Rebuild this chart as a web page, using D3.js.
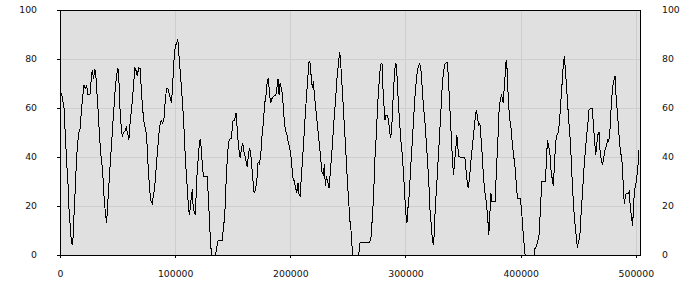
<!DOCTYPE html>
<html>
<head>
<meta charset="utf-8">
<script src="https://cdn.jsdelivr.net/npm/d3@7"></script>
<style>
  body { margin: 0; background: #fff; }
  text { font-family: "DejaVu Sans", Verdana, sans-serif; font-size: 9.3px; fill: #111; }
</style>
</head>
<body>
<svg id="chart" width="700" height="300"></svg>
<script>
// samples: [position, value]
var series = [
  [0,67.5],[1730,65],[3470,60],[4630,49],[5780,38],[6940,29],[7810,19],[8960,11],[9830,5.6],[10700,4],
  [11560,8],[12430,20],[13300,27],[14170,37.5],[15320,46],[16480,50],[17630,52],[18500,58.6],[19660,64],[20810,69.5],
  [21970,68],[23130,69],[24280,65.4],[26020,65.4],[27180,72],[28040,75.6],[29200,72],[30070,76],[30930,75],[31800,68],
  [32960,60],[34110,50.5],[35270,42],[36430,37],[37580,30],[38450,22],[39610,16.5],[40470,13],[41340,20.5],[42210,26.7],
  [43370,35.5],[44520,43.7],[45680,52],[46830,60],[47990,68],[49150,73.6],[50300,76.3],[51170,71],[52040,60],[53190,52],
  [54060,48.4],[55220,50],[56370,50.5],[57530,52],[58400,50],[58980,49],[59840,47],[60420,52],[61580,57],[62740,62.7],
  [63890,69.5],[65050,76.6],[66200,75],[67070,73],[68230,76.3],[69670,76],[70540,68],[71700,60],[72850,54.5],[74010,52],
  [75170,49],[75740,43.7],[76610,35.5],[77770,27],[78920,22],[80080,21],[80950,24],[82100,27],[83260,34],[84420,41],
  [85570,47.8],[86730,53],[87890,55],[89040,54],[90200,55],[91350,62.7],[92510,68],[93670,68],[94820,66],[95980,63.4],
  [96850,62],[98000,71],[98870,79],[100030,85],[101190,86.5],[102340,88],[103210,82],[104370,75],[105520,68],[106680,60],
  [107540,53],[108410,43.7],[109570,34],[110730,26],[111590,19],[112460,16.5],[113330,20.5],[114200,24.6],[115060,27],[115640,19],
  [116510,17.8],[117370,16.5],[118240,24.6],[119110,34],[120270,41],[121130,46.4],[122000,47],[122870,42.3],[123730,35.5],[124600,32],
  [127780,32],[128940,23],[129810,13.7],[130670,5.6],[131540,0],[135010,0],[136170,3.5],[137320,6],[140790,6],[141950,11],
  [143100,16.5],[144260,30],[145420,41],[146570,46.4],[147730,47.3],[148890,47.8],[150040,54.5],[151200,55],[152070,56],[152930,58],
  [153800,52],[154670,46.4],[155830,41],[156690,39.6],[157560,43.7],[158720,45.7],[159580,42.3],[160450,41],[161610,38],[162470,36],
  [163340,39.6],[164500,43.7],[165370,42.3],[166230,38],[167390,31.4],[168550,25.3],[169700,26.7],[170860,30],[172010,38],[173170,37.3],
  [174330,41],[175480,49],[176640,54.5],[177800,62],[178950,65.4],[180110,71.6],[180980,72],[181840,66],[183000,62],[184160,64],
  [185310,64.8],[186470,65],[187630,65.7],[188780,70],[189360,72],[190230,65.4],[191100,70],[192250,68],[193120,65.4],[193990,60],
  [194850,53.9],[196010,50.5],[197170,49],[198030,46.4],[199190,44.4],[200350,41],[201500,35.5],[202370,31.4],[203530,30],[204680,27.3],
  [205550,25.3],[206710,29.4],[207570,24.6],[208440,24],[209310,30],[210460,38],[211620,46.4],[212780,56],[213930,64],[215090,71.6],
  [216250,79],[217110,78.4],[217980,73.6],[219140,68],[220000,71],[220870,65.4],[222030,60],[223180,54.5],[224340,49],[225500,43.7],
  [226660,38],[227520,34],[228680,32.8],[229550,37],[230410,28],[231280,32],[232440,30],[233590,27.3],[234750,34],[235910,41],
  [237060,49],[238220,57],[239380,64],[240530,72],[241690,77.7],[242850,83],[243710,78.4],[244870,69.5],[246030,60],[247180,50.5],
  [248340,41],[249500,30.7],[250650,22],[251810,13.7],
  [252380,12.4],[253250,5.6],[254120,0],[259320,0],[260480,5],[261350,5.2],[268860,5.2],[270020,7],[271180,15],[272330,24.6],
  [273490,39.6],[274650,49],[275800,61],[276960,69.5],[277830,75],[278690,78],[279560,78.4],[280430,68],[281290,61],[282160,55],
  [283030,57],[284470,57],[285340,54.5],[286210,50.5],[287080,47.8],[287940,50.5],[288810,60],[289680,68],[290830,76.3],[291700,78.4],
  [292570,73.6],[293720,62.7],[294880,54.5],[296040,46.4],[297190,41],[298350,32.8],[299510,23],[300370,16.5],[301240,13],[302110,19],
  [303270,24.6],[304420,35.5],[305580,43.7],[306740,53],[307890,62.7],[309050,69.5],[310200,75],[311360,77],[312230,78.4],[313390,75.6],
  [314540,68],[315700,60],[316850,54.5],[318010,46.4],[319170,38],[320320,28.7],[321190,19],[322350,12.4],[323210,7],[324080,4.2],
  [324950,8.3],[325810,19],[326970,27.3],[328130,37],[329280,46.4],[330440,56],[331600,66.8],[332750,73.6],[333910,77.7],[335070,78.4],
  [336510,78.4],[337670,68],[338830,57],[339980,46.4],[340850,38],[341720,32.8],[342580,38],[343740,43.7],[344610,49],[345480,43.7],
  [346340,40.3],[347500,40],[350390,40],[351550,39.6],[352410,35.5],[353570,30],[354440,27.3],[355590,31.4],[356750,38],[357910,43.7],
  [359060,49],[360220,54.5],[361370,59],[362530,56.7],[363400,52.5],[364560,54],[365420,49],[366580,41],[367740,31.4],[368890,26],
  [370050,22],[371200,16.5],[372360,8.3],[373230,16.5],[374100,25.3],[374960,22],[377850,22],
  [378430,29],[379590,41],[380740,52],[381320,60],[382480,64],[383350,65],[384210,64],[384790,62],[385660,67.5],[386530,73.6],
  [387390,79.7],[388260,75.6],[389130,65.4],[390290,56],[391440,53],[392600,46.4],[393750,41],[394910,37],[396070,30],[397220,23],
  [399540,23],[400690,19],[401850,11],[403010,4.2],[403870,0],[411680,0],[412550,3],[413700,3.5],[414860,5.6],[416020,8.3],
  [417170,19],[418330,30],[421220,30],[422090,35.5],[423240,47],[424110,44.9],[425270,42.3],[426130,35.5],[427290,31.4],[428450,28],
  [429310,37],[430470,46.4],[431630,49],[432780,50],[433940,56],[435100,64],[436250,72],[437120,78.4],[437990,81],[438850,75],
  [439720,69.5],[440880,61],[442030,53],[443190,46.4],[444060,37],[444920,28.7],[446080,19],[447240,12.4],[448390,7],[449260,3],
  [450130,5.6],[451280,7],[452440,16.5],[453600,24.6],[454750,34],[455910,41],[457070,47.8],[458220,53],[459380,59.3],[460250,59.6],
  [461400,60],[462270,60],[463140,53],[464000,47.8],[465160,41],[466030,44.9],[466900,49],[468050,50],[468630,43.7],[469790,39.6],
  [470940,36.6],[472100,39.6],[473260,43],[474410,44.4],[475570,47],[476440,46.4],[477300,49],[478170,57],[479040,64],[480190,69.5],
  [481350,72],[481930,73],[482800,65.4],[483660,60],[484820,53],[485980,44.9],[487130,41],[488290,37],[489160,27.3],[490020,21],
  [491180,24.6],[492340,25.3],[493490,25.3],[494360,26],[495230,19],[496380,15],[497250,11.7],[498120,22],[499280,27.3],[500430,30],
  [501300,34],[502170,38],[502750,43]
];

var xTicks = [0, 100000, 200000, 300000, 400000, 500000];
var yTicks = [0, 20, 40, 60, 80, 100];

var svg = d3.select("#chart"),
  margin = { top: 10, right: 60, bottom: 45, left: 60 },
  width = +svg.attr("width") - margin.left - margin.right,
  height = +svg.attr("height") - margin.top - margin.bottom;

var g = svg.append("g")
  .attr("transform", "translate(" + margin.left + "," + margin.top + ")");

var x = d3.scaleLinear()
  .domain([0, d3.max(series, function (d) { return d[0] })])
  .range([0, width - 1]);
var y = d3.scaleLinear()
  .domain([0, 100])
  .range([height, 0]);

// plot background
g.append("rect")
  .attr("width", width)
  .attr("height", height)
  .style("fill", "#e0e0e0");

// grid
g.append("g")
  .selectAll("line.h")
  .data(yTicks.filter(function (d) { return d > 0 && d < 100 }))
  .enter().append("line")
  .attr("x1", 0).attr("x2", width)
  .attr("y1", function (d) { return Math.round(y(d)) + 0.5 })
  .attr("y2", function (d) { return Math.round(y(d)) + 0.5 })
  .style("stroke", "#cecece");
g.append("g")
  .selectAll("line.v")
  .data(xTicks.filter(function (d) { return d > 0 }))
  .enter().append("line")
  .attr("y1", 0).attr("y2", height)
  .attr("x1", function (d) { return Math.round(x(d)) + 0.5 })
  .attr("x2", function (d) { return Math.round(x(d)) + 0.5 })
  .style("stroke", "#cecece");

// frame
g.append("rect")
  .attr("x", 0.5).attr("y", 0.5)
  .attr("width", width)
  .attr("height", height)
  .style("fill", "none")
  .style("stroke", "#000")
  .style("shape-rendering", "crispEdges");

// data line
var line = d3.line()
  .x(function (d) { return x(d[0]) })
  .y(function (d) { return y(d[1]) });

g.append("path")
  .datum(series)
  .attr("d", line)
  .style("fill", "none")
  .style("stroke", "#000")
  .style("stroke-width", 1)
  .style("shape-rendering", "crispEdges");

// axes
var yAxisL = d3.axisLeft(y).tickValues(yTicks).tickSizeInner(3).tickSizeOuter(0).tickPadding(20);
var yAxisR = d3.axisRight(y).tickValues(yTicks).tickSizeInner(0).tickSizeOuter(0).tickPadding(22);
var xAxis = d3.axisBottom(x).tickValues(xTicks).tickSizeInner(3).tickSizeOuter(0).tickPadding(12)
  .tickFormat(d3.format("d"));

var gl = g.append("g").call(yAxisL);
var gr = g.append("g").attr("transform", "translate(" + width + ",0)").call(yAxisR);
var gb = g.append("g").attr("transform", "translate(0," + height + ")").call(xAxis);

[gl, gr, gb].forEach(function (a) {
  a.select(".domain").remove();
  a.attr("font-family", null).attr("font-size", null);
  a.selectAll("line").style("stroke", "#000").style("shape-rendering", "crispEdges");
  a.selectAll("text").style("fill", "#111");
});
</script>
</body>
</html>
